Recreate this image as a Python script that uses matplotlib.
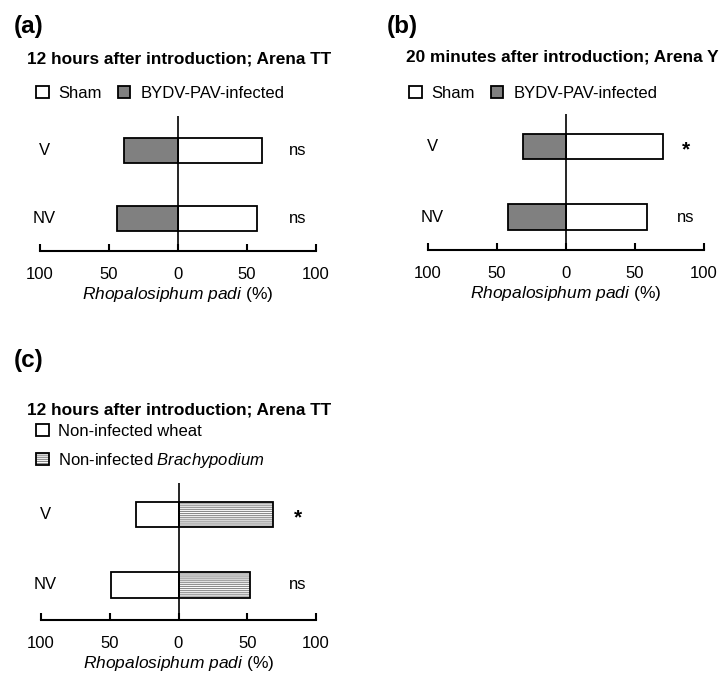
import matplotlib
matplotlib.use("Agg")
import matplotlib.pyplot as plt

plt.rcParams['font.family'] = ['Liberation Sans', 'DejaVu Sans']
plt.rcParams['mathtext.fontset'] = 'custom'
plt.rcParams['mathtext.rm'] = 'Liberation Sans'
plt.rcParams['mathtext.it'] = 'Liberation Sans:italic'
plt.rcParams['hatch.linewidth'] = 0.8

categories = ['V', 'NV']

# panel (a): 12 hours, arena TT
a_sham = [61, 57]
a_infected = [39, 44]
a_sig = ['ns', 'ns']

# panel (b): 20 minutes, arena Y
b_sham = [70, 59]
b_infected = [31, 42]
b_sig = ['*', 'ns']

# panel (c): wheat vs Brachypodium
c_wheat = [31, 49]
c_brachy = [69, 52]
c_sig = ['*', 'ns']

ticks = [-100, -50, 0, 50, 100]
tick_labels = ['100', '50', '0', '50', '100']

W, H = 726, 679
fig = plt.figure(figsize=(W / 100, H / 100), dpi=100)


def box(left, right, top, bottom):
    return [left / W, 1 - bottom / H, (right - left) / W, (bottom - top) / H]


def fxy(x, y):
    return x / W, 1 - y / H


def setup(ax, sig, ylim):
    ypos = [1, 0]
    ax.set_xlim(-100, 100)
    ax.set_ylim(*ylim)
    for s in ['left', 'top', 'right']:
        ax.spines[s].set_visible(False)
    ax.spines['bottom'].set_linewidth(1.5)
    ax.set_yticks([])
    ax.set_xticks(ticks)
    ax.set_xticklabels(tick_labels, fontsize=12)
    ax.tick_params(axis='x', direction='in', length=5, width=1.5, pad=11.5)
    ax.axvline(0, color='black', lw=1.2)
    ax.set_xlabel(r'$\it{Rhopalosiphum\ padi}$ (%)', fontsize=12.5, labelpad=2.5)
    for y, lab in zip(ypos, categories):
        ax.text(-97, y, lab, ha='center', va='center', fontsize=12)
    for y, s in zip(ypos, sig):
        if s == '*':
            ax.text(87, y - 0.04, s, ha='center', va='center', fontsize=15, fontweight='bold')
        else:
            ax.text(87, y, s, ha='center', va='center', fontsize=12)


bh = 0.36
ypos = [1, 0]
leg_kw = dict(frameon=False, borderpad=0, borderaxespad=0, fontsize=12,
              handlelength=0.75, handleheight=0.75, handletextpad=0.6)

# (a)
ax_a = fig.add_axes(box(40, 316, 116, 251))
sa = ax_a.barh(ypos, a_sham, height=bh, color='white', edgecolor='black', lw=1.3)
ia = ax_a.barh(ypos, [-v for v in a_infected], height=bh, color='#808080', edgecolor='black', lw=1.3)
setup(ax_a, a_sig, (-0.47, 1.5))
ax_a.legend([sa, ia], ['Sham', 'BYDV-PAV-infected'], loc='center left',
            bbox_to_anchor=fxy(36, 93), bbox_transform=fig.transFigure,
            ncol=2, columnspacing=0.95, **leg_kw)

# (b)
ax_b = fig.add_axes(box(428, 704, 114, 250))
sb = ax_b.barh(ypos, b_sham, height=bh, color='white', edgecolor='black', lw=1.3)
ib = ax_b.barh(ypos, [-v for v in b_infected], height=bh, color='#808080', edgecolor='black', lw=1.3)
setup(ax_b, b_sig, (-0.47, 1.467))
ax_b.legend([sb, ib], ['Sham', 'BYDV-PAV-infected'], loc='center left',
            bbox_to_anchor=fxy(409, 93), bbox_transform=fig.transFigure,
            ncol=2, columnspacing=0.95, **leg_kw)

# (c)
ax_c = fig.add_axes(box(41, 316, 483, 620))
wc = ax_c.barh(ypos, [-v for v in c_wheat], height=bh, color='white', edgecolor='black', lw=1.3)
hc = ax_c.barh(ypos, c_brachy, height=bh, color='white', edgecolor='#8a8a8a', lw=0, hatch='--------')
oc = ax_c.barh(ypos, c_brachy, height=bh, fill=False, edgecolor='black', lw=1.3)
setup(ax_c, c_sig, (-0.5, 1.45))
ax_c.legend([wc, (hc[0], oc[0])], ['Non-infected wheat', r'Non-infected $\it{Brachypodium}$'],
            loc='upper left', bbox_to_anchor=fxy(36, 424), bbox_transform=fig.transFigure,
            ncol=1, labelspacing=0.7, **leg_kw)

# titles and panel letters
title_kw = dict(fontsize=12.4, fontweight='bold', va='center', ha='left')
fig.text(*fxy(27, 59), '12 hours after introduction; Arena TT', **title_kw)
fig.text(*fxy(406, 57), '20 minutes after introduction; Arena Y', **title_kw)
fig.text(*fxy(27, 410), '12 hours after introduction; Arena TT', **title_kw)
letter_kw = dict(fontsize=17.5, fontweight='bold', va='center', ha='left')
fig.text(*fxy(14, 26), '(a)', **letter_kw)
fig.text(*fxy(387, 26), '(b)', **letter_kw)
fig.text(*fxy(14, 360), '(c)', **letter_kw)

fig.savefig('out.png', dpi=100)
